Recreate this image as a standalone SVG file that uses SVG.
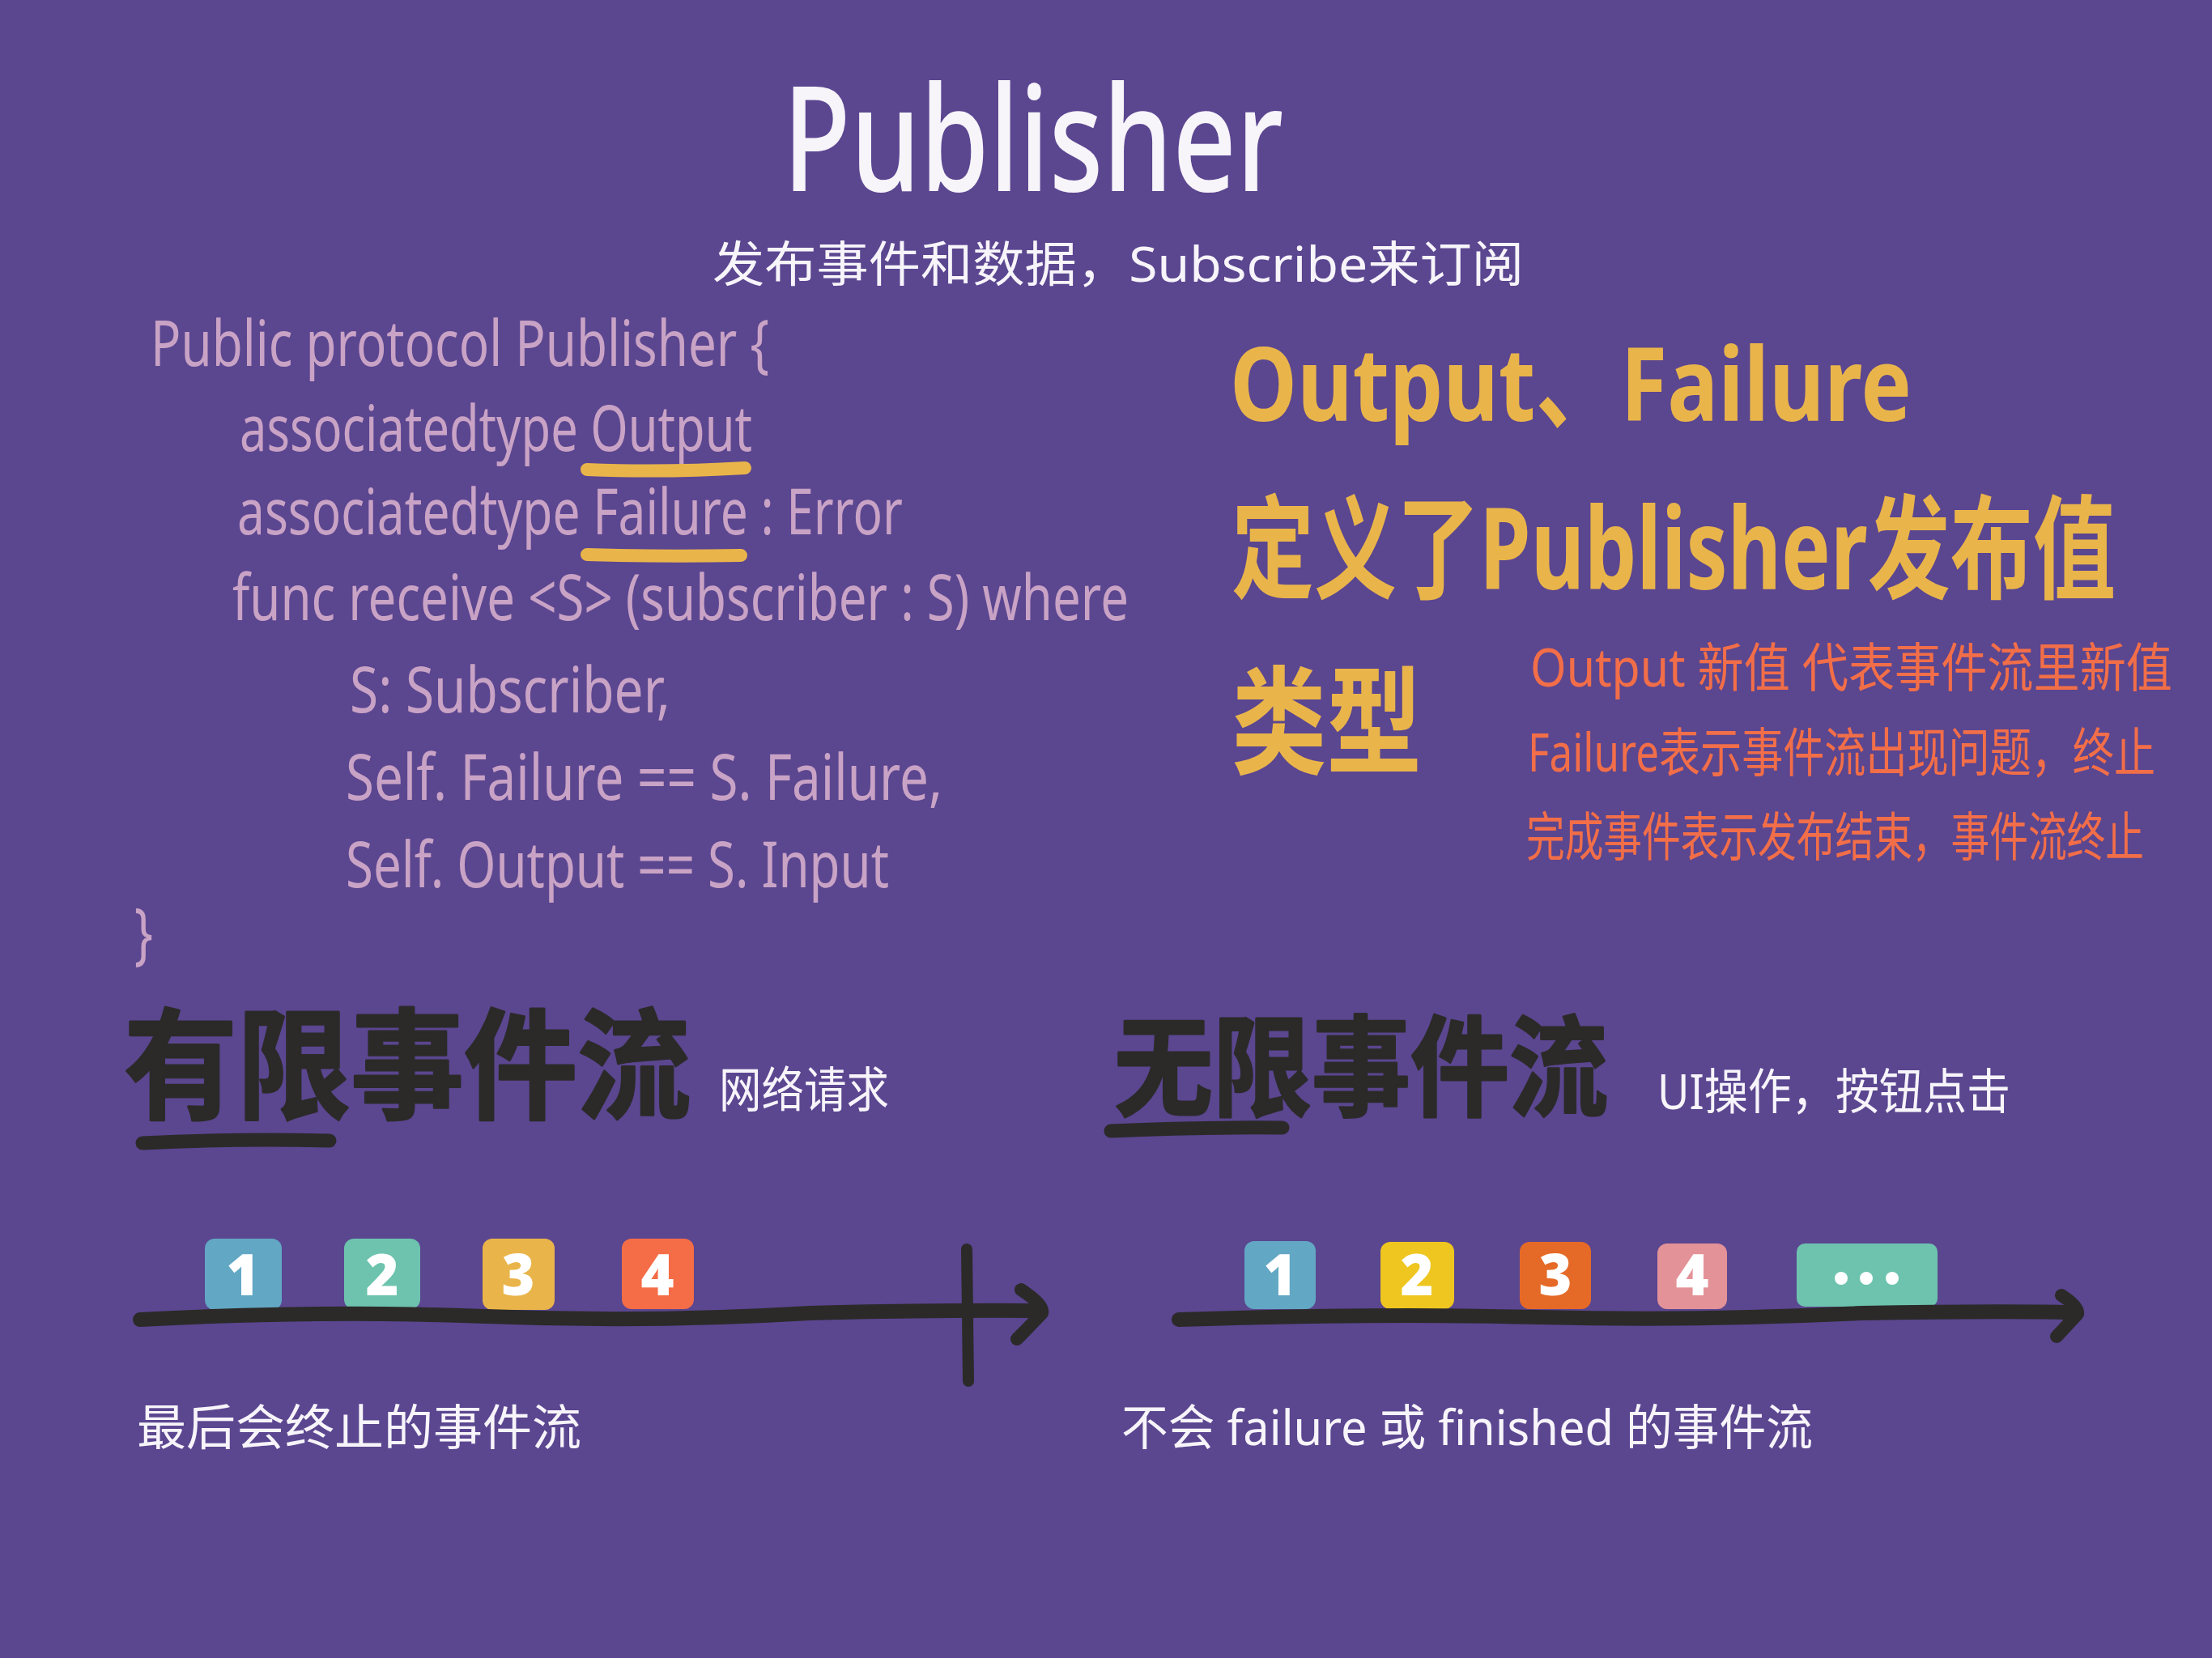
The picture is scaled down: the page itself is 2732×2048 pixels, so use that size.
<svg xmlns="http://www.w3.org/2000/svg" width="2732" height="2048" viewBox="0 0 2732 2048">
<style>
.cjk{font-family:"Noto Sans","Noto Sans CJK SC",sans-serif}
.white{fill:#F7F4FA}
.code{font-family:"Noto Sans","Noto Sans CJK SC",sans-serif;fill:#C9A3C5;font-size:60px}
.yel{fill:#E9B54A;font-family:"Noto Sans","Noto Sans CJK SC",sans-serif;font-weight:700}
.org{fill:#F26E48;font-family:"Noto Sans","Noto Sans CJK SC",sans-serif;font-size:52px}
.blk{fill:#2B2A29;font-family:"Noto Sans CJK SC",sans-serif;font-weight:700;stroke:#2B2A29;stroke-width:3;stroke-linejoin:round}
.ink{fill:none;stroke:#2B2A29;stroke-linecap:round;stroke-linejoin:round}
.hl{fill:none;stroke:#E9B54A;stroke-width:16;stroke-linecap:round}
.num{fill:#FFFFFF;font-family:"Noto Sans",sans-serif;font-weight:900;font-size:70px;text-anchor:middle}
</style>
<rect width="2732" height="2048" fill="#5B4690"/>

<g id="title">
<text transform="translate(967,236) scale(1,1.24)" class="white" font-family="Noto Sans, sans-serif" font-size="145" font-weight="500" textLength="618" lengthAdjust="spacingAndGlyphs">Publisher</text>
<text x="880" y="348" class="cjk white" font-size="60" textLength="1002" lengthAdjust="spacingAndGlyphs">发布事件和数据，Subscribe来订阅</text>
</g>

<g id="code">
<text transform="translate(186,452) scale(1,1.32)" class="code" textLength="764" lengthAdjust="spacingAndGlyphs">Public protocol Publisher {</text>
<text transform="translate(296,557) scale(1,1.32)" class="code" textLength="633" lengthAdjust="spacingAndGlyphs">associatedtype Output</text>
<text transform="translate(293,660) scale(1,1.32)" class="code" textLength="822" lengthAdjust="spacingAndGlyphs">associatedtype  Failure : Error</text>
<text transform="translate(287,766) scale(1,1.32)" class="code" textLength="1107" lengthAdjust="spacingAndGlyphs">func receive &lt;S&gt; (subscriber : S) where</text>
<text transform="translate(432,880) scale(1,1.32)" class="code" textLength="396" lengthAdjust="spacingAndGlyphs">S: Subscriber,</text>
<text transform="translate(427,988) scale(1,1.32)" class="code" textLength="737" lengthAdjust="spacingAndGlyphs">Self. Failure == S. Failure,</text>
<text transform="translate(427,1096) scale(1,1.32)" class="code" textLength="671" lengthAdjust="spacingAndGlyphs">Self. Output == S. Input</text>
<text transform="translate(166,1182) scale(1,1.4)" class="code" font-size="72">}</text>
<path class="hl" d="M725 580 Q820 584 920 578"/>
<path class="hl" d="M725 685 Q820 688 915 686"/>
</g>

<g id="explanation">
<text x="1519" y="520" class="yel" font-size="125" textLength="842" lengthAdjust="spacingAndGlyphs">Output、Failure</text>
<text transform="translate(1521,728) scale(1,1.45)" class="yel" font-size="96" textLength="1092" lengthAdjust="spacingAndGlyphs">定义了Publisher发布值</text>
<text x="1521" y="945" class="yel" font-size="145" textLength="235" lengthAdjust="spacingAndGlyphs">类型</text>
<text transform="translate(1890,848) scale(1,1.25)" class="org" textLength="793" lengthAdjust="spacingAndGlyphs">Output 新值 代表事件流里新值</text>
<text transform="translate(1887,953) scale(1,1.25)" class="org" textLength="775" lengthAdjust="spacingAndGlyphs">Failure表示事件流出现问题，终止</text>
<text transform="translate(1885,1057) scale(1,1.25)" class="org" textLength="763" lengthAdjust="spacingAndGlyphs">完成事件表示发布结束，事件流终止</text>
</g>

<g id="finite-stream">
<text x="153" y="1370" class="blk" font-size="148" textLength="700" lengthAdjust="spacingAndGlyphs">有限事件流</text>
<path class="ink" stroke-width="17" d="M176 1412 Q290 1406 407 1409"/>
<text x="888" y="1368" class="cjk white" font-size="60" textLength="210" lengthAdjust="spacingAndGlyphs">网络请求</text>
<rect x="253" y="1530" width="95" height="88" rx="12" fill="#62A7C4"/>
<text x="300" y="1600" class="num">1</text>
<rect x="425" y="1530" width="94" height="87" rx="12" fill="#6DC3AE"/>
<text x="472" y="1600" class="num">2</text>
<rect x="596" y="1530" width="89" height="88" rx="12" fill="#E9B54A"/>
<text x="640" y="1600" class="num">3</text>
<rect x="768" y="1530" width="89" height="87" rx="12" fill="#F56D47"/>
<text x="812" y="1600" class="num">4</text>
<path class="ink" stroke-width="18" d="M173 1630 Q400 1618 600 1626 T1000 1622 Q1150 1618 1285 1619"/>
<path class="ink" stroke-width="16" d="M1261 1593 Q1290 1612 1287 1622 Q1270 1640 1256 1654"/>
<path class="ink" stroke-width="14" d="M1194 1543 L1196 1706"/>
<text x="169" y="1785" class="cjk white" font-size="60" textLength="549" lengthAdjust="spacingAndGlyphs">最后会终止的事件流</text>
</g>

<g id="infinite-stream">
<text x="1376" y="1368" class="blk" font-size="135" textLength="610" lengthAdjust="spacingAndGlyphs">无限事件流</text>
<path class="ink" stroke-width="17" d="M1372 1397 Q1480 1392 1584 1393"/>
<text x="2047" y="1370" class="cjk white" font-size="60" textLength="436" lengthAdjust="spacingAndGlyphs">UI操作，按钮点击</text>
<rect x="1537" y="1533" width="88" height="84" rx="12" fill="#62A7C4"/>
<text x="1581" y="1600" class="num">1</text>
<rect x="1705" y="1534" width="91" height="83" rx="12" fill="#EEC61F"/>
<text x="1750" y="1600" class="num">2</text>
<rect x="1877" y="1534" width="88" height="83" rx="12" fill="#E56A27"/>
<text x="1921" y="1600" class="num">3</text>
<rect x="2047" y="1536" width="86" height="81" rx="12" fill="#E39298"/>
<text x="2090" y="1600" class="num">4</text>
<rect x="2219" y="1536" width="174" height="78" rx="10" fill="#6DC3AE"/>
<circle cx="2274" cy="1579" r="8" fill="#FFFFFF"/>
<circle cx="2305" cy="1579" r="8" fill="#FFFFFF"/>
<circle cx="2337" cy="1579" r="8" fill="#FFFFFF"/>
<path class="ink" stroke-width="18" d="M1456 1630 Q1700 1622 1900 1627 T2300 1622 Q2450 1619 2562 1621"/>
<path class="ink" stroke-width="16" d="M2546 1600 Q2568 1614 2566 1623 Q2552 1638 2540 1651"/>
<text x="1385" y="1785" class="cjk white" font-size="60" textLength="854" lengthAdjust="spacingAndGlyphs">不会 failure 或 finished 的事件流</text>
</g>
</svg>
